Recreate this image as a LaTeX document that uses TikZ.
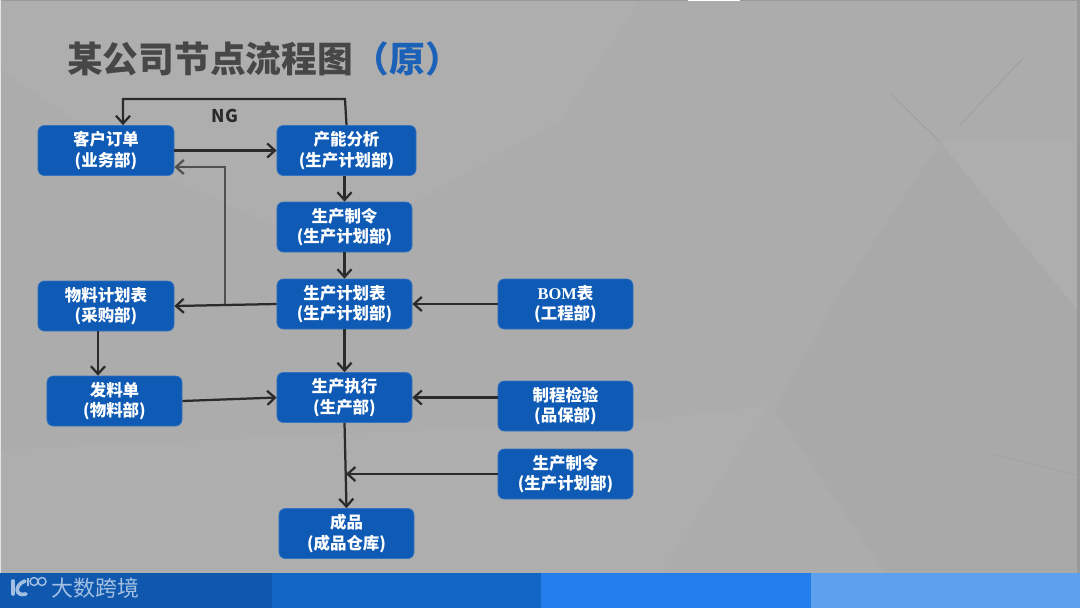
\documentclass[tikz,border=0pt]{standalone}
\usepackage{fontspec}
\setmainfont{Noto Sans CJK SC}
\newfontfamily\latinserif{Liberation Serif}
\usepackage{xcolor}
\usetikzlibrary{arrows.meta}

\definecolor{bgbase}{HTML}{ACACAC}
\definecolor{bglight}{HTML}{AEAEAE}
\definecolor{bgdark}{HTML}{A9A9A9}
\definecolor{boxblue}{HTML}{0F5AB4}
\definecolor{titlegray}{HTML}{474747}
\definecolor{titleblue}{HTML}{1B61B7}
\definecolor{linedark}{HTML}{2B2B2B}
\definecolor{linegray}{HTML}{505050}
\definecolor{logoblue}{HTML}{A3BFE2}
\definecolor{foota}{HTML}{0F58AD}
\definecolor{footb}{HTML}{1366C4}
\definecolor{footc}{HTML}{237DEB}
\definecolor{footd}{HTML}{5FA0EE}

\tikzset{
    flowbox/.style={fill=boxblue, draw=boxblue!85!white, line width=0.5pt, rounded corners=4.5pt,
        text=white, font=\fontsize{11.7}{14.4}\selectfont\bfseries, align=center, inner sep=0pt,
        minimum width=3.375cm, minimum height=1.25cm},
    flow/.style={->, draw=linedark, line width=1.6pt},
    >={Straight Barb[length=5.5pt,width=10pt]}
}

\begin{document}
\begin{tikzpicture}[x=0.025cm, y=-0.025cm]
    \useasboundingbox (0,0) rectangle (1080,608);

    % background
    \fill[bgbase] (0,0) rectangle (1080,608);
    \fill[bglight] (0,0) -- (640,0) -- (560,120) -- (330,250) -- (150,170) -- (0,70) -- cycle;
    \fill[bglight] (0,450) -- (640,420) -- (768,406) -- (660,573) -- (0,573) -- cycle;
    \fill[bglight] (940,142) -- (1077,142) -- (1077,310) -- cycle;
    \fill[bgdark] (940,142) -- (1077,310) -- (1077,573) -- (885,573) -- (775,410) -- (835,300) -- cycle;
    \draw[bgdark!93!black, line width=0.5pt] (890,93) -- (940,142);
    \draw[bgdark!93!black, line width=0.5pt] (960,125) -- (1023,58);
    \draw[bgdark!97!black, line width=1pt] (988,453) -- (1077,475);
    \fill[black!40] (1077,0) rectangle (1080,573);
    \fill[black!40] (0,0) rectangle (1080,1);
    \fill[white] (688,0) rectangle (740,1);
    \fill[black!10] (0,0) rectangle (1,573);

    % footer
    \fill[foota] (0,573) rectangle (272,608);
    \fill[footb] (272,573) rectangle (541,608);
    \fill[footc] (541,573) rectangle (811,608);
    \fill[footd] (811,573) rectangle (1080,608);
    \draw[logoblue, line width=2.6pt, line cap=round] (13,581) -- (13,594);
    \draw[logoblue, line width=2.6pt, line cap=round] (25,581) .. controls (14,585) and (15,597) .. (26,594);
    \draw[logoblue, line width=1pt] (28,578) -- (28,586);
    \draw[logoblue, line width=1pt] (34,581.5) circle (4);
    \draw[logoblue, line width=1pt] (42,581.5) circle (4);
    \node[text=logoblue, font=\fontsize{15.6}{16}\selectfont, inner sep=0pt] (brand) at (95.5,588) {大数跨境};

    % title
    \node[text=titlegray, font=\fontsize{25.4}{27}\selectfont\bfseries, inner sep=0pt, anchor=west] (title) at (67,59) {某公司节点流程图};
    \node[text=titleblue, font=\fontsize{25.4}{27}\selectfont\bfseries, inner sep=0pt, anchor=west] (titlenote) at (title.east) {（原）};

    % boxes
    \node[flowbox, minimum width=3.4cm] (order) at (106,150.5) {客户订单\\(业务部)};
    \node[flowbox, minimum width=3.475cm] (capacity) at (346.5,150.5) {产能分析\\(生产计划部)};
    \node[flowbox] (command) at (344.5,227) {生产制令\\(生产计划部)};
    \node[flowbox] (plan) at (344.5,304) {生产计划表\\(生产计划部)};
    \node[flowbox, minimum width=3.4cm] (material) at (106,306) {物料计划表\\(采购部)};
    \node[flowbox] (bom) at (565.5,304) {{\latinserif BOM}表\\(工程部)};
    \node[flowbox] (issue) at (114.5,401) {发料单\\(物料部)};
    \node[flowbox] (exec) at (344.5,397.5) {生产执行\\(生产部)};
    \node[flowbox] (inspect) at (565.5,406) {制程检验\\(品保部)};
    \node[flowbox] (recommand) at (565.5,474) {生产制令\\(生产计划部)};
    \node[flowbox] (product) at (346.5,533.5) {成品\\(成品仓库)};

    \node[text=linedark, font=\fontsize{12.5}{14}\selectfont\bfseries, inner sep=0pt] (ng) at (225,115.5) {NG};

    \coordinate (ngright) at (345,99);
    \coordinate (ngleft) at (123,99);
    \coordinate (fbtop) at (225,167);
    \coordinate (fbbottom) at (225,304);
    \coordinate (matdown) at (98,350);
    \coordinate (merge) at (346,474);

    % connectors
    \draw[flow] (capacity.north) -- (ngright) -- (ngleft) -- (ngleft |- order.north);
    \draw[flow] (order.east) -- (capacity.west);
    \draw[flow] (capacity.south -| command.south) -- (command.north);
    \draw[flow] (command.south) -- (plan.north);
    \draw[flow] (plan.west) -- (material.east);
    \draw[flow, draw=linegray] (fbbottom) -- (fbtop) -- (fbtop -| order.east);
    \draw[flow] (bom.west) -- (plan.east);
    \draw[flow] (plan.south) -- (exec.north);
    \draw[flow] (matdown |- material.south) -- (matdown |- issue.north);
    \draw[flow] (issue.east) -- (exec.west);
    \draw[flow] (exec.east -| inspect.west) -- (exec.east);
    \draw[flow] (exec.south) -- (product.north);
    \draw[flow] (recommand.west) -- (merge);
\end{tikzpicture}
\end{document}
